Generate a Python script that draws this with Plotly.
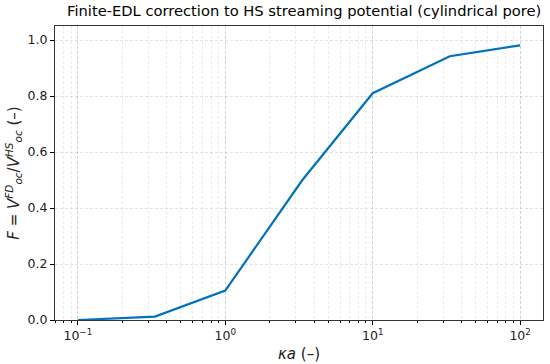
import plotly.graph_objects as go
import numpy as np

ka = [0.1, 1/3, 1.0, 10/3, 10.0, 100/3, 100.0]
F = [0.0, 0.012, 0.105, 0.50, 0.81, 0.942, 0.981]

x_tickvals = [0.1, 1, 10, 100]
x_ticktext = ["10<sup>−1</sup>", "10<sup>0</sup>", "10<sup>1</sup>", "10<sup>2</sup>"]
y_tickvals = [0.0, 0.2, 0.4, 0.6, 0.8, 1.0]
y_ticktext = ["0.0", "0.2", "0.4", "0.6", "0.8", "1.0"]

fig = go.Figure()
fig.add_trace(go.Scatter(x=ka, y=F, mode="lines",
                         line=dict(color="#0072BD", width=2.2)))

grid = dict(showgrid=True, gridcolor="rgba(0,0,0,0.11)", griddash="3px,2px", gridwidth=0.8)
fig.update_layout(
    width=550, height=364,
    margin=dict(l=55, r=7, t=26, b=44),
    paper_bgcolor="white", plot_bgcolor="white",
    font=dict(family="DejaVu Sans", size=12.5, color="#222"),
    title=dict(text="Finite-EDL correction to HS streaming potential (cylindrical pore)",
               x=0.553, xanchor="center", y=0.985, yanchor="top",
               font=dict(size=14.7, color="black")),
    showlegend=False,
    xaxis=dict(type="log", range=[np.log10(0.1) - 0.155, np.log10(100) + 0.155],
               tickvals=x_tickvals, ticktext=x_ticktext,
               ticks="outside", ticklen=4, tickcolor="black",
               showline=True, linecolor="#333", linewidth=1, mirror=True,
               zeroline=False, automargin=False,
               minor=dict(ticks="outside", ticklen=2, tickcolor="black",
                          showgrid=True, gridcolor="rgba(0,0,0,0.08)", griddash="3px,2px",
                          dtick="D1"),
               title=dict(text="<i>κa</i> (–)", standoff=6),
               **grid),
    yaxis=dict(range=[0, 1.05], tickvals=y_tickvals, ticktext=y_ticktext,
               ticks="outside", ticklen=4, tickcolor="black",
               showline=True, linecolor="#333", linewidth=1, mirror=True,
               zeroline=False, automargin=False,
               title=dict(text="<i>F</i> = <i>V</i><sup><i>FD</i></sup><sub><i>oc</i></sub>/<i>V</i><sup><i>HS</i></sup><sub><i>oc</i></sub> (–)", standoff=4),
               **grid),
)
fig.write_html("out.html", config={"displayModeBar": False},
               post_script="document.body.style.margin='0';")
